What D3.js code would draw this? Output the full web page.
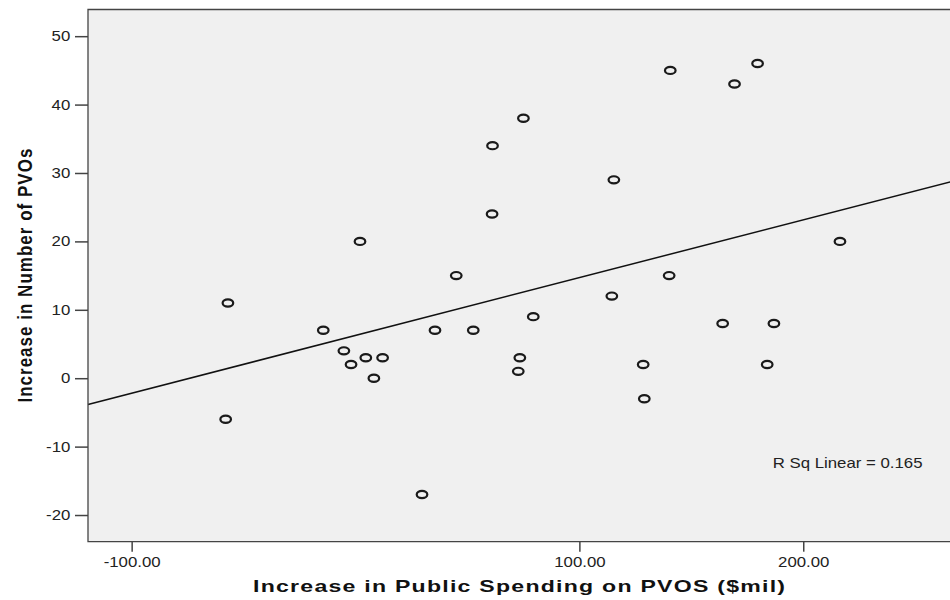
<!DOCTYPE html>
<html>
<head>
<meta charset="utf-8">
<script src="https://cdn.jsdelivr.net/npm/d3@7/dist/d3.min.js"></script>
<style>
  html, body { margin: 0; padding: 0; background: #ffffff; }
  svg { display: block; }
  text { font-family: "Liberation Sans", Arial, sans-serif; }
</style>
</head>
<body>
<svg id="chart" width="950" height="600"></svg>
<script>
// ---- data ----
const spending = [-57, -58, -14.4, -5.2, -2, 4.6, 12.1, 8.2, 2, 29.7, 35.5, 45, 52.6, 61, 61.2, 75, 79.4, 73.4, 72.7,
                  115.4, 114.5, 128.5, 129, 140.6, 140.1, 169.3, 179.6, 164, 186.9, 183.9, 216.4];
const pvos     = [11, -6, 7, 4, 2, 3, 3, 0, 20, -17, 7, 15, 7, 24, 34, 38, 9, 3, 1,
                  29, 12, 2, -3, 45, 15, 43, 46, 8, 8, 2, 20];
const xTicks = [-100, 100, 200];
const yTicks = [-20, -10, 0, 10, 20, 30, 40, 50];
const xTitle = "Increase in Public Spending on PVOS ($mil)";
const yTitle = "Increase in Number of PVOs";
const rsqLabel = "R Sq Linear = 0.165";

// ---- layout ----
const SX = 1.2; // horizontal stretch of the original image
const plot = { left: 88, top: 9.5, right: 951, bottom: 541.7 };
const svg = d3.select("#chart");

const x = d3.scaleLinear().domain([-119.5, 266]).range([plot.left, plot.right]);
const y = d3.scaleLinear().domain([-23.9, 53.9]).range([plot.bottom, plot.top]);

// plot background
svg.append("rect")
  .attr("x", plot.left).attr("y", plot.top)
  .attr("width", plot.right - plot.left).attr("height", plot.bottom - plot.top)
  .attr("fill", "#f0f0f0").attr("stroke", "none");

// regression line (least squares from data)
const n = spending.length;
const mx = d3.mean(spending), my = d3.mean(pvos);
let sxy = 0, sxx = 0;
for (let i = 0; i < n; i++) { sxy += (spending[i] - mx) * (pvos[i] - my); sxx += (spending[i] - mx) ** 2; }
const slope = sxy / sxx, icpt = my - slope * mx;
const [d0, d1] = x.domain();
svg.append("line")
  .attr("x1", x(d0)).attr("y1", y(icpt + slope * d0))
  .attr("x2", x(d1)).attr("y2", y(icpt + slope * d1))
  .attr("stroke", "#111").attr("stroke-width", 1.5);

// points
svg.append("g").selectAll("ellipse")
  .data(spending.map((v, i) => [v, pvos[i]]))
  .join("ellipse")
  .attr("cx", d => x(d[0])).attr("cy", d => y(d[1]))
  .attr("rx", 5.3).attr("ry", 3.6)
  .attr("fill", "none").attr("stroke", "#1a1a1a").attr("stroke-width", 2.2);

// frame (left, top, bottom)
svg.append("path")
  .attr("d", `M${plot.right},${plot.top}H${plot.left}V${plot.bottom}H${plot.right}`)
  .attr("fill", "none").attr("stroke", "#444").attr("stroke-width", 1.3);

const hyphen = f => d => f(d).replace("\u2212", "-");

// y axis
const gy = svg.append("g").attr("transform", `translate(${plot.left},0)`)
  .call(d3.axisLeft(y).tickValues(yTicks).tickSize(13).tickFormat(hyphen(d3.format("d"))));
gy.select(".domain").remove();
gy.selectAll(".tick line").attr("stroke", "#444").attr("stroke-width", 1.5);
gy.selectAll(".tick text")
  .attr("x", -17.7 / SX).attr("transform", `scale(${SX},1)`)
  .attr("font-size", 14).attr("fill", "#222")
  .attr("font-family", "'Liberation Sans', Arial, sans-serif");

// x axis
const gx = svg.append("g").attr("transform", `translate(0,${plot.bottom})`)
  .call(d3.axisBottom(x).tickValues(xTicks).tickSize(10).tickPadding(5).tickFormat(hyphen(d3.format(".2f"))));
gx.select(".domain").remove();
gx.selectAll(".tick line").attr("stroke", "#444").attr("stroke-width", 1.5);
gx.selectAll(".tick text")
  .attr("transform", `scale(${SX},1)`)
  .attr("font-size", 14).attr("fill", "#222")
  .attr("font-family", "'Liberation Sans', Arial, sans-serif");

// x title
svg.append("text")
  .attr("transform", `translate(${(plot.left + 950) / 2},592) scale(1.4,1)`)
  .attr("text-anchor", "middle").attr("font-size", 16.5).attr("font-weight", "bold").attr("fill", "#111")
  .attr("textLength", 532 / 1.4).attr("lengthAdjust", "spacing")
  .text(xTitle);

// y title
svg.append("text")
  .attr("transform", `translate(31.5,${(plot.top + plot.bottom) / 2}) scale(${SX},1) rotate(-90)`)
  .attr("text-anchor", "middle").attr("font-size", 17).attr("font-weight", "bold").attr("fill", "#111")
  .attr("textLength", 254).attr("lengthAdjust", "spacing")
  .text(yTitle);

// R squared label
svg.append("text")
  .attr("transform", `translate(772.7,468.3) scale(${SX},1)`)
  .attr("font-size", 14).attr("fill", "#222")
  .text(rsqLabel);
</script>
</body>
</html>
